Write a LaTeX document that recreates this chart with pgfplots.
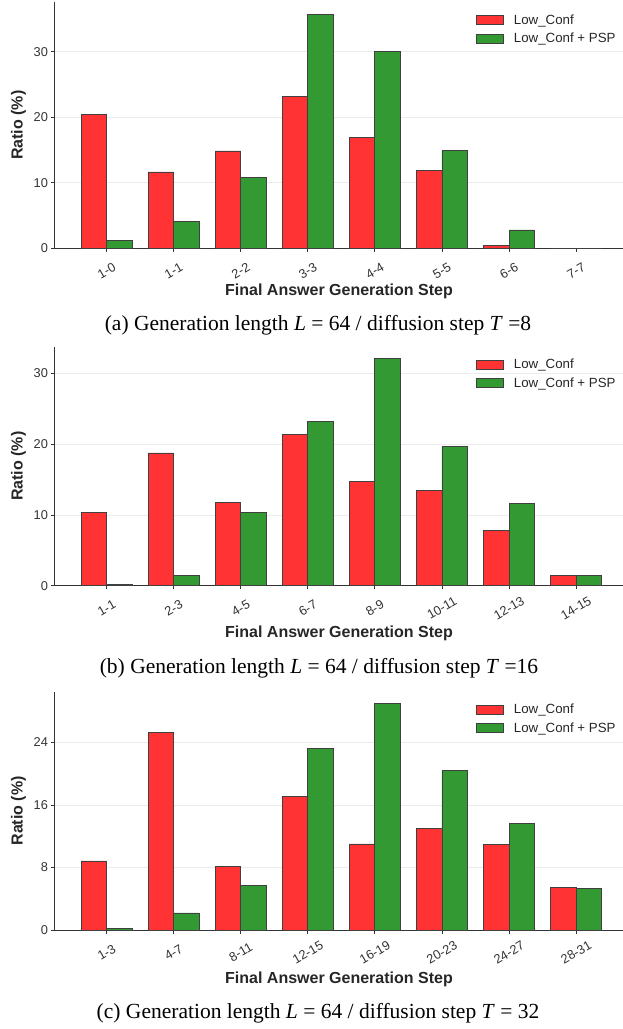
\documentclass[border=0pt]{standalone}
\usepackage{fontspec}
\setmainfont{Liberation Serif}
\setsansfont{Liberation Sans}
\usepackage{pgfplots}
\pgfplotsset{compat=1.18}
\definecolor{myred}{RGB}{255,51,51}
\definecolor{mygreen}{RGB}{51,153,51}
\definecolor{gridc}{RGB}{235,235,235}
\definecolor{axc}{RGB}{51,51,51}
\pgfplotsset{
  myleg/.style={legend image code/.code={\draw[##1, draw=black!75, line width=0.8pt] (0pt,-4.5pt) rectangle (27pt,4.5pt);}},
  panel/.style={
    scale only axis, width=568pt,
    xmin=-0.77, xmax=7.7, ymin=0,
    axis lines=left, axis line style={-, draw=axc, line width=1pt},
    xtick={0,...,7},
    tick align=outside, major tick length=3.5pt,
    tick style={draw=axc, line width=0.8pt},
    ymajorgrids, grid style={gridc, line width=0.8pt},
    ybar, bar width=0.38,
    ticklabel style={font=\sffamily\fontsize{12.8}{14}\selectfont, text=black!80},
    /pgf/number format/assume math mode=true,
    xticklabel style={yshift=-19pt, rotate=30, anchor=center},
    xlabel={\bfseries Final Answer Generation Step},
    ylabel={\bfseries Ratio (\%)},
    label style={font=\sffamily\fontsize{16}{18}\selectfont, text=black!85},
    ylabel style={at={([xshift=-36.5pt]axis description cs:0,0.5)}, anchor=center},
    legend style={draw=none, fill=none, at={(axis description cs:0.996,0.966)}, anchor=north east,
      font=\sffamily\fontsize{13.3}{15}\selectfont, text=black!85, row sep=3.5pt,
      /tikz/every odd column/.append style={column sep=8pt}},
    legend cell align=left,
  }
}
\begin{document}
\begin{tikzpicture}
\path[use as bounding box] (0,0) rectangle (623pt,-1029pt);
% (a)
\begin{axis}[panel, at={(55pt,-248.3pt)}, anchor=south west, height=246.3pt, ymax=37.6,
  ytick={0,10,20,30}, xticklabels={1-0,1-1,2-2,3-3,4-4,5-5,6-6,7-7},
  xlabel style={at={([yshift=-43pt]axis description cs:0.5,0)}, anchor=center}]
\addplot[fill=myred, draw=black!75, line width=0.8pt, bar shift=-0.19, myleg] coordinates {(0,20.5) (1,11.65) (2,14.86) (3,23.25) (4,16.95) (5,11.9) (6,0.4) (7,0)};
\addplot[fill=mygreen, draw=black!75, line width=0.8pt, bar shift=0.19, myleg] coordinates {(0,1.17) (1,4.07) (2,10.84) (3,35.7) (4,30.1) (5,14.9) (6,2.8) (7,0)};
\legend{Low\_Conf, Low\_Conf + PSP}
\end{axis}
\node[font=\fontsize{21.5}{25}\selectfont] at (318pt,-325pt) {(a) Generation length \textit{L} = 64 / diffusion step \textit{T} =8};
% (b)
\begin{axis}[panel, at={(55pt,-585.7pt)}, anchor=south west, height=239pt, ymax=33.8,
  ytick={0,10,20,30}, xticklabels={1-1,2-3,4-5,6-7,8-9,10-11,12-13,14-15},
  xlabel style={at={([yshift=-48pt]axis description cs:0.5,0)}, anchor=center}]
\addplot[fill=myred, draw=black!75, line width=0.8pt, bar shift=-0.19, myleg] coordinates {(0,10.33) (1,18.78) (2,11.75) (3,21.42) (4,14.77) (5,13.5) (6,7.84) (7,1.42)};
\addplot[fill=mygreen, draw=black!75, line width=0.8pt, bar shift=0.19, myleg] coordinates {(0,0.14) (1,1.42) (2,10.33) (3,23.26) (4,32.1) (5,19.67) (6,11.6) (7,1.42)};
\legend{Low\_Conf, Low\_Conf + PSP}
\end{axis}
\node[font=\fontsize{21.5}{25}\selectfont] at (319pt,-668.3pt) {(b) Generation length \textit{L} = 64 / diffusion step \textit{T} =16};
% (c)
\begin{axis}[panel, at={(55pt,-930pt)}, anchor=south west, height=238.3pt, ymax=30.5,
  ytick={0,8,16,24}, xticklabels={1-3,4-7,8-11,12-15,16-19,20-23,24-27,28-31},
  xlabel style={at={([yshift=-49pt]axis description cs:0.5,0)}, anchor=center}]
\addplot[fill=myred, draw=black!75, line width=0.8pt, bar shift=-0.19, myleg] coordinates {(0,8.84) (1,25.28) (2,8.11) (3,17.08) (4,11.02) (5,13.02) (6,10.93) (7,5.46)};
\addplot[fill=mygreen, draw=black!75, line width=0.8pt, bar shift=0.19, myleg] coordinates {(0,0.21) (1,2.18) (2,5.76) (3,23.19) (4,29.04) (5,20.37) (6,13.62) (7,5.34)};
\legend{Low\_Conf, Low\_Conf + PSP}
\end{axis}
\node[font=\fontsize{21.5}{25}\selectfont] at (318pt,-1013pt) {(c) Generation length \textit{L} = 64 / diffusion step \textit{T} = 32};
\end{tikzpicture}
\end{document}
